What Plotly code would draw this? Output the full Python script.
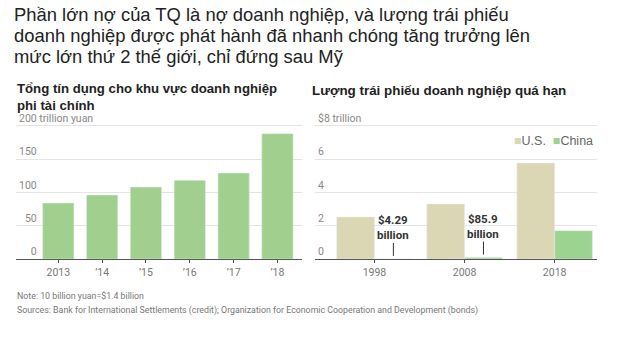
import plotly.graph_objects as go

# Non-financial corporate credit, trillion yuan
credit_years = ["2013", "’14", "’15", "’16", "’17", "’18"]
credit_values = [84, 96, 108, 118, 129, 188]

# Corporate bonds outstanding, trillion dollars
bond_years = ["1998", "2008", "2018"]
us_bonds = [2.52, 3.3, 5.76]
china_bonds = [0.00429, 0.0859, 1.7]
china_labels = ["$4.29<br>billion", "$85.9<br>billion", None]

left_ticks = [0, 50, 100, 150, 200]
left_ticktext = ["\u2007\u20070", "\u200750", "100", "150", "200 trillion yuan"]
right_ticks = [0, 2, 4, 6, 8]
right_ticktext = ["0", "2", "4", "6", "$8 trillion"]

GREEN = "#a1d08e"
BEIGE = "#dbd6b3"
CHINA = "#9dd390"
GRID = "#e4e4e4"
AXIS = "#555555"
SMALL_FONT = "Roboto, Open Sans, sans-serif"
HEAD_FONT = "Liberation Sans, Arial, sans-serif"

fig = go.Figure()

fig.add_trace(go.Bar(
    x=credit_years, y=credit_values, marker_color=GREEN, width=0.714,
    xaxis="x", yaxis="y", showlegend=False,
))
fig.add_trace(go.Bar(
    x=bond_years, y=us_bonds, name="U.S.", marker_color=BEIGE,
    xaxis="x2", yaxis="y2",
))
fig.add_trace(go.Bar(
    x=bond_years, y=china_bonds, name="China", marker_color=CHINA,
    xaxis="x2", yaxis="y2",
))

# plot band: value 0 sits at 259px, 50 units (or $2tn) per 33.3px
y_dom = [80 / 339, 235 / 339]

def xaxis_style(domain, rng, anchor, labels):
    return dict(
        domain=domain, range=rng, type="category", anchor=anchor,
        tickmode="array", tickvals=labels, ticktext=labels,
        ticklabeloverflow="allow",
        showgrid=False, showline=True, linecolor=AXIS, linewidth=1,
        ticks="outside", ticklen=3, tickcolor=AXIS,
        tickfont=dict(family=SMALL_FONT, size=10.5, color="#777777"),
        fixedrange=True,
    )

def yaxis_style(anchor, rng, vals, text):
    return dict(
        anchor=anchor, domain=y_dom, range=rng,
        tickvals=vals, ticktext=text, ticklabelposition="inside top",
        ticklabeloverflow="allow",
        showgrid=True, gridcolor=GRID, gridwidth=1, zeroline=False,
        showline=False, ticks="",
        tickfont=dict(family=SMALL_FONT, size=10.5, color="#888888"),
        fixedrange=True,
    )

fig.update_layout(
    width=630, height=339,
    margin=dict(l=0, r=0, t=0, b=0),
    paper_bgcolor="white", plot_bgcolor="white",
    barmode="group", bargap=0.162, bargroupgap=0,
    xaxis=xaxis_style([16 / 630, 302 / 630], [-0.965, 5.56], "y", credit_years),
    yaxis=yaxis_style("x", [0, 232.5], left_ticks, left_ticktext),
    xaxis2=xaxis_style([315 / 630, 597 / 630], [-0.66, 2.47], "y2", bond_years),
    yaxis2=yaxis_style("x2", [0, 9.3], right_ticks, right_ticktext),
    showlegend=False,
)

# Legend row for the bond panel
fig.add_annotation(
    text=(f"<span style='color:{BEIGE}'>■</span>U.S.  "
          f"<span style='color:{CHINA}'>■</span>China"),
    xref="paper", yref="paper", x=512 / 630, y=(339 - 141) / 339,
    xanchor="left", yanchor="middle", showarrow=False,
    font=dict(family=HEAD_FONT, size=12.5, color="#666666"),
)

# Headline, three lines
headline = [
    "Phần lớn nợ của TQ là nợ doanh nghiệp, và lượng trái phiếu",
    "doanh nghiệp được phát hành đã nhanh chóng tăng trưởng lên",
    "mức lớn thứ 2 thế giới, chỉ đứng sau Mỹ",
]
for i, line in enumerate(headline):
    fig.add_annotation(
        text=line, xref="paper", yref="paper",
        x=12 / 630, y=(339 - 14 - 21.3 * i) / 339,
        xanchor="left", yanchor="middle", showarrow=False,
        font=dict(family=HEAD_FONT, size=18.4, color="#222222"),
    )

# Panel titles
fig.add_annotation(
    text="<b>Tổng tín dụng cho khu vực doanh nghiệp<br>phi tài chính</b>",
    xref="paper", yref="paper", x=15 / 630, y=(339 - 79) / 339,
    xanchor="left", yanchor="top", align="left", showarrow=False,
    font=dict(family=HEAD_FONT, size=13.2, color="#222222"),
)
fig.add_annotation(
    text="<b>Lượng trái phiếu doanh nghiệp quá hạn</b>",
    xref="paper", yref="paper", x=310 / 630, y=(339 - 81) / 339,
    xanchor="left", yanchor="top", align="left", showarrow=False,
    font=dict(family=HEAD_FONT, size=13.4, color="#222222"),
)

# Callouts for the tiny China values
offset = 0.21
for i, (val, lab) in enumerate(zip(china_bonds, china_labels)):
    if lab is None:
        continue
    fig.add_annotation(
        text=f"<b>{lab}</b>", xref="x2", yref="y2", x=i + offset, y=val,
        ax=0, ay=-16, showarrow=True, arrowhead=0, arrowwidth=1,
        arrowcolor="#333333", standoff=3, yanchor="bottom", borderpad=0,
        font=dict(family=SMALL_FONT, size=11.5, color="#333333"),
    )
    fig.add_annotation(
        text="", xref="x2", yref="y2", x=i + offset, y=val,
        ax=0, ay=-1, showarrow=True, arrowhead=6, arrowsize=0.6,
        arrowwidth=1.5, arrowcolor="#333333", standoff=3,
    )

# Footnotes
fig.add_annotation(
    text="Note: 10 billion yuan=$1.4 billion",
    xref="paper", yref="paper", x=15 / 630, y=(339 - 296) / 339,
    xanchor="left", yanchor="middle", showarrow=False,
    font=dict(family=SMALL_FONT, size=8.8, color="#777777"),
)
fig.add_annotation(
    text="Sources: Bank for International Settlements (credit); Organization for Economic Cooperation and Development (bonds)",
    xref="paper", yref="paper", x=15 / 630, y=(339 - 310) / 339,
    xanchor="left", yanchor="middle", showarrow=False,
    font=dict(family=SMALL_FONT, size=8.8, color="#777777"),
)

fig.write_html("out.html")
